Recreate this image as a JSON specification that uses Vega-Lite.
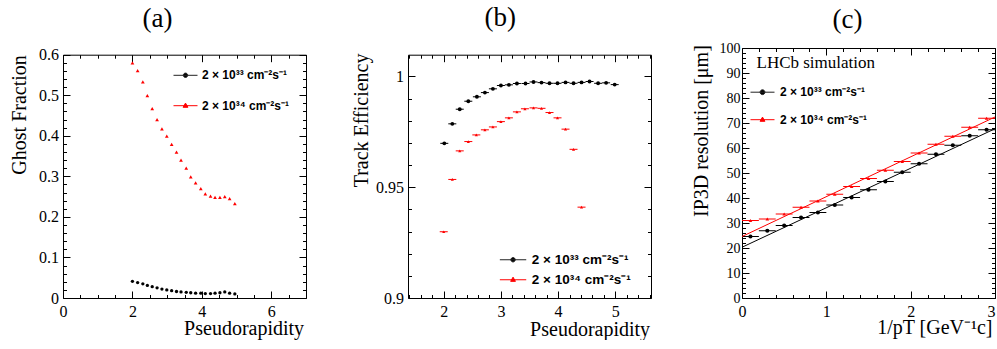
{
  "$schema": "https://vega.github.io/schema/vega-lite/v6.json",
  "background": "white",
  "autosize": {"type": "pad"},
  "padding": {"left": 9, "top": 4, "right": 0, "bottom": 0},
  "spacing": 38,
  "config": {
    "view": {"stroke": null},
    "axis": {
      "grid": false, "domain": true, "domainColor": "black", "domainWidth": 1,
      "ticks": true, "tickColor": "black", "tickWidth": 1,
      "labelFont": "Liberation Serif", "labelFontSize": 16, "labelColor": "black",
      "labelFlush": false, "labelOverlap": false, "labelBound": false,
      "titleFont": "Liberation Serif", "titleFontSize": 20, "titleFontWeight": "normal", "titleColor": "black"
    },
    "legend": {"padding": 0}
  },
  "datasets": {
    "a": [
      {"lumi": "2e33", "eta": 2.00, "v": 0.041}, {"lumi": "2e33", "eta": 2.15, "v": 0.038},
      {"lumi": "2e33", "eta": 2.30, "v": 0.035}, {"lumi": "2e33", "eta": 2.43, "v": 0.031},
      {"lumi": "2e33", "eta": 2.57, "v": 0.028}, {"lumi": "2e33", "eta": 2.71, "v": 0.025},
      {"lumi": "2e33", "eta": 2.85, "v": 0.022}, {"lumi": "2e33", "eta": 2.99, "v": 0.020},
      {"lumi": "2e33", "eta": 3.13, "v": 0.018}, {"lumi": "2e33", "eta": 3.27, "v": 0.016},
      {"lumi": "2e33", "eta": 3.40, "v": 0.015}, {"lumi": "2e33", "eta": 3.55, "v": 0.014},
      {"lumi": "2e33", "eta": 3.68, "v": 0.013}, {"lumi": "2e33", "eta": 3.82, "v": 0.012},
      {"lumi": "2e33", "eta": 3.97, "v": 0.012}, {"lumi": "2e33", "eta": 4.10, "v": 0.011},
      {"lumi": "2e33", "eta": 4.25, "v": 0.011}, {"lumi": "2e33", "eta": 4.38, "v": 0.012},
      {"lumi": "2e33", "eta": 4.52, "v": 0.013}, {"lumi": "2e33", "eta": 4.66, "v": 0.015},
      {"lumi": "2e33", "eta": 4.80, "v": 0.012}, {"lumi": "2e33", "eta": 4.95, "v": 0.010},
      {"lumi": "2e34", "eta": 2.00, "v": 0.580}, {"lumi": "2e34", "eta": 2.15, "v": 0.561},
      {"lumi": "2e34", "eta": 2.30, "v": 0.533}, {"lumi": "2e34", "eta": 2.43, "v": 0.499},
      {"lumi": "2e34", "eta": 2.57, "v": 0.467}, {"lumi": "2e34", "eta": 2.71, "v": 0.440},
      {"lumi": "2e34", "eta": 2.85, "v": 0.417}, {"lumi": "2e34", "eta": 2.99, "v": 0.399},
      {"lumi": "2e34", "eta": 3.13, "v": 0.379}, {"lumi": "2e34", "eta": 3.27, "v": 0.360},
      {"lumi": "2e34", "eta": 3.40, "v": 0.340}, {"lumi": "2e34", "eta": 3.55, "v": 0.320},
      {"lumi": "2e34", "eta": 3.68, "v": 0.299}, {"lumi": "2e34", "eta": 3.82, "v": 0.284},
      {"lumi": "2e34", "eta": 3.97, "v": 0.270}, {"lumi": "2e34", "eta": 4.10, "v": 0.257},
      {"lumi": "2e34", "eta": 4.25, "v": 0.251}, {"lumi": "2e34", "eta": 4.38, "v": 0.248},
      {"lumi": "2e34", "eta": 4.52, "v": 0.248}, {"lumi": "2e34", "eta": 4.66, "v": 0.250},
      {"lumi": "2e34", "eta": 4.80, "v": 0.245}, {"lumi": "2e34", "eta": 4.95, "v": 0.233}
    ],
    "b": [
      {"lumi": "2e33", "eta": 2.01, "lo": 1.94, "hi": 2.08, "v": 0.9698},
      {"lumi": "2e33", "eta": 2.15, "lo": 2.08, "hi": 2.22, "v": 0.9786},
      {"lumi": "2e33", "eta": 2.28, "lo": 2.21, "hi": 2.35, "v": 0.9852},
      {"lumi": "2e33", "eta": 2.43, "lo": 2.36, "hi": 2.50, "v": 0.9888},
      {"lumi": "2e33", "eta": 2.58, "lo": 2.51, "hi": 2.65, "v": 0.9908},
      {"lumi": "2e33", "eta": 2.72, "lo": 2.65, "hi": 2.79, "v": 0.9927},
      {"lumi": "2e33", "eta": 2.86, "lo": 2.79, "hi": 2.93, "v": 0.9944},
      {"lumi": "2e33", "eta": 3.00, "lo": 2.93, "hi": 3.07, "v": 0.9959},
      {"lumi": "2e33", "eta": 3.14, "lo": 3.07, "hi": 3.21, "v": 0.9962},
      {"lumi": "2e33", "eta": 3.28, "lo": 3.21, "hi": 3.35, "v": 0.9968},
      {"lumi": "2e33", "eta": 3.43, "lo": 3.36, "hi": 3.50, "v": 0.9968},
      {"lumi": "2e33", "eta": 3.57, "lo": 3.50, "hi": 3.64, "v": 0.9975},
      {"lumi": "2e33", "eta": 3.71, "lo": 3.64, "hi": 3.78, "v": 0.9972},
      {"lumi": "2e33", "eta": 3.85, "lo": 3.78, "hi": 3.92, "v": 0.9969},
      {"lumi": "2e33", "eta": 3.99, "lo": 3.92, "hi": 4.06, "v": 0.9969},
      {"lumi": "2e33", "eta": 4.13, "lo": 4.06, "hi": 4.20, "v": 0.9973},
      {"lumi": "2e33", "eta": 4.27, "lo": 4.20, "hi": 4.34, "v": 0.9969},
      {"lumi": "2e33", "eta": 4.41, "lo": 4.34, "hi": 4.48, "v": 0.9973},
      {"lumi": "2e33", "eta": 4.55, "lo": 4.48, "hi": 4.62, "v": 0.9977},
      {"lumi": "2e33", "eta": 4.70, "lo": 4.63, "hi": 4.77, "v": 0.9969},
      {"lumi": "2e33", "eta": 4.84, "lo": 4.77, "hi": 4.91, "v": 0.9971},
      {"lumi": "2e33", "eta": 4.99, "lo": 4.92, "hi": 5.06, "v": 0.9963},
      {"lumi": "2e34", "eta": 2.00, "lo": 1.93, "hi": 2.07, "v": 0.9299},
      {"lumi": "2e34", "eta": 2.15, "lo": 2.08, "hi": 2.22, "v": 0.9535},
      {"lumi": "2e34", "eta": 2.28, "lo": 2.21, "hi": 2.35, "v": 0.9664},
      {"lumi": "2e34", "eta": 2.43, "lo": 2.36, "hi": 2.50, "v": 0.9706},
      {"lumi": "2e34", "eta": 2.57, "lo": 2.50, "hi": 2.64, "v": 0.9736},
      {"lumi": "2e34", "eta": 2.72, "lo": 2.65, "hi": 2.79, "v": 0.9759},
      {"lumi": "2e34", "eta": 2.86, "lo": 2.79, "hi": 2.93, "v": 0.9772},
      {"lumi": "2e34", "eta": 3.00, "lo": 2.93, "hi": 3.07, "v": 0.9796},
      {"lumi": "2e34", "eta": 3.14, "lo": 3.07, "hi": 3.21, "v": 0.9813},
      {"lumi": "2e34", "eta": 3.28, "lo": 3.21, "hi": 3.35, "v": 0.9840},
      {"lumi": "2e34", "eta": 3.42, "lo": 3.35, "hi": 3.49, "v": 0.9854},
      {"lumi": "2e34", "eta": 3.57, "lo": 3.50, "hi": 3.64, "v": 0.9858},
      {"lumi": "2e34", "eta": 3.71, "lo": 3.64, "hi": 3.78, "v": 0.9856},
      {"lumi": "2e34", "eta": 3.85, "lo": 3.78, "hi": 3.92, "v": 0.9837},
      {"lumi": "2e34", "eta": 3.99, "lo": 3.92, "hi": 4.06, "v": 0.9813},
      {"lumi": "2e34", "eta": 4.13, "lo": 4.06, "hi": 4.20, "v": 0.9762},
      {"lumi": "2e34", "eta": 4.27, "lo": 4.20, "hi": 4.34, "v": 0.9671},
      {"lumi": "2e34", "eta": 4.41, "lo": 4.34, "hi": 4.48, "v": 0.9410}
    ],
    "c": [
      {"lumi": "2e33", "x": 0.1, "lo": 0.0, "hi": 0.2, "v": 24.6},
      {"lumi": "2e33", "x": 0.3, "lo": 0.2, "hi": 0.4, "v": 26.9},
      {"lumi": "2e33", "x": 0.5, "lo": 0.4, "hi": 0.6, "v": 29.0},
      {"lumi": "2e33", "x": 0.7, "lo": 0.6, "hi": 0.8, "v": 32.2},
      {"lumi": "2e33", "x": 0.9, "lo": 0.8, "hi": 1.0, "v": 34.2},
      {"lumi": "2e33", "x": 1.1, "lo": 1.0, "hi": 1.2, "v": 37.2},
      {"lumi": "2e33", "x": 1.3, "lo": 1.2, "hi": 1.4, "v": 40.2},
      {"lumi": "2e33", "x": 1.5, "lo": 1.4, "hi": 1.6, "v": 43.3},
      {"lumi": "2e33", "x": 1.7, "lo": 1.6, "hi": 1.8, "v": 46.6},
      {"lumi": "2e33", "x": 1.9, "lo": 1.8, "hi": 2.0, "v": 50.3},
      {"lumi": "2e33", "x": 2.1, "lo": 2.0, "hi": 2.2, "v": 53.7},
      {"lumi": "2e33", "x": 2.3, "lo": 2.2, "hi": 2.4, "v": 57.5},
      {"lumi": "2e33", "x": 2.5, "lo": 2.4, "hi": 2.6, "v": 61.1},
      {"lumi": "2e33", "x": 2.7, "lo": 2.6, "hi": 2.8, "v": 64.9},
      {"lumi": "2e33", "x": 2.9, "lo": 2.8, "hi": 3.0, "v": 67.3},
      {"lumi": "2e34", "x": 0.1, "lo": 0.0, "hi": 0.2, "v": 31.0},
      {"lumi": "2e34", "x": 0.3, "lo": 0.2, "hi": 0.4, "v": 31.6},
      {"lumi": "2e34", "x": 0.5, "lo": 0.4, "hi": 0.6, "v": 33.6},
      {"lumi": "2e34", "x": 0.7, "lo": 0.6, "hi": 0.8, "v": 36.3},
      {"lumi": "2e34", "x": 0.9, "lo": 0.8, "hi": 1.0, "v": 38.8},
      {"lumi": "2e34", "x": 1.1, "lo": 1.0, "hi": 1.2, "v": 41.5},
      {"lumi": "2e34", "x": 1.3, "lo": 1.2, "hi": 1.4, "v": 44.6},
      {"lumi": "2e34", "x": 1.5, "lo": 1.4, "hi": 1.6, "v": 47.8},
      {"lumi": "2e34", "x": 1.7, "lo": 1.6, "hi": 1.8, "v": 51.1},
      {"lumi": "2e34", "x": 1.9, "lo": 1.8, "hi": 2.0, "v": 54.6},
      {"lumi": "2e34", "x": 2.1, "lo": 2.0, "hi": 2.2, "v": 58.0},
      {"lumi": "2e34", "x": 2.3, "lo": 2.2, "hi": 2.4, "v": 61.5},
      {"lumi": "2e34", "x": 2.5, "lo": 2.4, "hi": 2.6, "v": 64.7},
      {"lumi": "2e34", "x": 2.7, "lo": 2.6, "hi": 2.8, "v": 68.3},
      {"lumi": "2e34", "x": 2.9, "lo": 2.8, "hi": 3.0, "v": 71.9}
    ],
    "cfit": [
      {"lumi": "2e33", "x": 0, "v": 20.3}, {"lumi": "2e33", "x": 3, "v": 67.7},
      {"lumi": "2e34", "x": 0, "v": 24.6}, {"lumi": "2e34", "x": 3, "v": 72.4}
    ]
  },
  "resolve": {
    "scale": {"color": "independent", "shape": "independent", "stroke": "independent"},
    "legend": {"color": "independent", "shape": "independent", "stroke": "independent"}
  },
  "hconcat": [
    {
      "width": 243, "height": 250,
      "title": {"text": "(a)", "anchor": "middle", "frame": "group", "dx": -27, "offset": -7.1, "baseline": "alphabetic", "font": "Liberation Serif", "fontSize": 27, "fontWeight": "normal", "color": "black"},
      "data": {"name": "a"},
      "resolve": {"axis": {"x": "independent", "y": "independent"}},
      "layer": [
        {
          "transform": [{"filter": {"field": "lumi", "equal": "2e33"}}],
          "mark": {"type": "point", "filled": true, "opacity": 1, "size": 11, "color": "black", "shape": "circle"},
          "encoding": {
            "x": {"field": "eta", "type": "quantitative", "scale": {"domain": [0, 7], "nice": false, "zero": false},
              "axis": {"orient": "bottom", "values": [0,0.5,1,1.5,2,2.5,3,3.5,4,4.5,5,5.5,6,6.5,7],
                "tickSize": {"condition": {"test": "datum.value % 2 === 0", "value": -7}, "value": -3.5},
                "labelExpr": "datum.value % 2 === 0 ? format(datum.value, 'd') : ''", "labelPadding": 12,
                "title": "Pseudorapidity", "titleAnchor": "end", "titleAlign": "right", "titleBaseline": "alphabetic", "titleX": 240.6, "titleY": 36.2}},
            "y": {"field": "v", "type": "quantitative", "scale": {"domain": [0, 0.6], "range": [250, 6.7], "nice": false, "zero": false},
              "axis": {"orient": "left", "values": [0,0.02,0.04,0.06,0.08,0.1,0.12,0.14,0.16,0.18,0.2,0.22,0.24,0.26,0.28,0.3,0.32,0.34,0.36,0.38,0.4,0.42,0.44,0.46,0.48,0.5,0.52,0.54,0.56,0.58,0.6],
                "tickSize": {"condition": {"test": "abs(datum.value*10-round(datum.value*10)) < 0.001", "value": -7}, "value": -3.5},
                "labelExpr": "abs(datum.value*10-round(datum.value*10)) < 0.001 ? format(datum.value, '.1~f') : ''", "labelPadding": 11.4,
                "title": "Ghost Fraction", "titleAnchor": "end", "titleAlign": "right", "titleAngle": -90, "titleBaseline": "alphabetic", "titleX": -37.7, "titleY": 6.7}}
          }
        },
        {
          "transform": [{"filter": {"field": "lumi", "equal": "2e34"}}],
          "mark": {"type": "point", "filled": true, "opacity": 1, "size": 14, "color": "red", "shape": "triangle-up"},
          "encoding": {
            "x": {"field": "eta", "type": "quantitative", "scale": {"domain": [0, 7], "nice": false, "zero": false},
              "axis": {"orient": "top", "offset": -6.7, "values": [0,0.5,1,1.5,2,2.5,3,3.5,4,4.5,5,5.5,6,6.5,7],
                "tickSize": {"condition": {"test": "datum.value % 2 === 0", "value": -7}, "value": -3.5},
                "labels": false, "title": null}},
            "y": {"field": "v", "type": "quantitative", "scale": {"domain": [0, 0.6], "range": [250, 6.7], "nice": false, "zero": false},
              "axis": {"orient": "right", "values": [0,0.02,0.04,0.06,0.08,0.1,0.12,0.14,0.16,0.18,0.2,0.22,0.24,0.26,0.28,0.3,0.32,0.34,0.36,0.38,0.4,0.42,0.44,0.46,0.48,0.5,0.52,0.54,0.56,0.58,0.6],
                "tickSize": {"condition": {"test": "abs(datum.value*10-round(datum.value*10)) < 0.001", "value": -7}, "value": -3.5},
                "labels": false, "title": null, "minExtent": 7, "maxExtent": 7}}
          }
        },
        {
          "data": {"values": []},
          "mark": {"type": "point", "filled": true, "opacity": 1},
          "encoding": {
            "x": {"field": "eta", "type": "quantitative", "axis": null},
            "y": {"field": "v", "type": "quantitative", "axis": null},
            "color": {"field": "lumi", "type": "nominal", "scale": {"domain": ["2e33", "2e34"], "range": ["black", "red"]},
              "legend": {"orient": "none", "legendX": 116.5, "legendY": 21.3, "title": null, "padding": 0,
                "labelExpr": "datum.value === '2e33' ? '2 × 10³³ cm⁻²s⁻¹' : '2 × 10³⁴ cm⁻²s⁻¹'",
                "labelFont": "Liberation Sans", "labelFontWeight": "bold", "labelFontSize": 12, "labelColor": "black",
                "symbolSize": 64, "symbolStrokeWidth": 1, "symbolOpacity": 1, "rowPadding": 18.4, "labelOffset": 10.5}},
            "stroke": {"field": "lumi", "type": "nominal", "scale": {"domain": ["2e33", "2e34"], "range": ["#222222", "red"]},
              "legend": {"orient": "none", "legendX": 116.5, "legendY": 21.3, "title": null, "padding": 0,
                "labelExpr": "datum.value === '2e33' ? '2 × 10³³ cm⁻²s⁻¹' : '2 × 10³⁴ cm⁻²s⁻¹'",
                "labelFont": "Liberation Sans", "labelFontWeight": "bold", "labelFontSize": 12, "labelColor": "black",
                "symbolSize": 64, "symbolStrokeWidth": 1, "symbolOpacity": 1, "rowPadding": 18.4, "labelOffset": 10.5}},
            "shape": {"field": "lumi", "type": "nominal", "scale": {"domain": ["2e33", "2e34"], "range": ["M-3,0L3,0M0.55,0A0.55,0.55 0 1,1 -0.55,0A0.55,0.55 0 1,1 0.55,0Z", "M-3,0L3,0M0,-0.65L0.6,0.4L-0.6,0.4Z"]},
              "legend": {"orient": "none", "legendX": 116.5, "legendY": 21.3, "title": null, "padding": 0,
                "labelExpr": "datum.value === '2e33' ? '2 × 10³³ cm⁻²s⁻¹' : '2 × 10³⁴ cm⁻²s⁻¹'",
                "labelFont": "Liberation Sans", "labelFontWeight": "bold", "labelFontSize": 12, "labelColor": "black",
                "symbolSize": 64, "symbolStrokeWidth": 1, "symbolOpacity": 1, "rowPadding": 18.4, "labelOffset": 10.5}}
          }
        }
      ]
    },
    {
      "width": 243, "height": 250,
      "title": {"text": "(b)", "anchor": "middle", "frame": "group", "dx": -29.2, "offset": -5.1, "baseline": "alphabetic", "font": "Liberation Serif", "fontSize": 27, "fontWeight": "normal", "color": "black"},
      "data": {"name": "b"},
      "resolve": {"axis": {"x": "independent", "y": "independent"}},
      "layer": [
        {
          "transform": [{"filter": {"field": "lumi", "equal": "2e33"}}],
          "mark": {"type": "rule", "strokeWidth": 1, "opacity": 1, "color": "black"},
          "encoding": {
            "x": {"field": "lo", "type": "quantitative", "scale": {"domain": [1.375, 5.625], "nice": false, "zero": false},
              "axis": {"orient": "bottom", "values": [1.4,1.6,1.8,2,2.2,2.4,2.6,2.8,3,3.2,3.4,3.6,3.8,4,4.2,4.4,4.6,4.8,5,5.2,5.4,5.6],
                "tickSize": {"condition": {"test": "abs(datum.value-round(datum.value)) < 0.001", "value": -7}, "value": -3.5},
                "labelExpr": "abs(datum.value-round(datum.value)) < 0.001 ? format(datum.value, 'd') : ''", "labelPadding": 12,
                "title": "Pseudorapidity", "titleAnchor": "end", "titleAlign": "right", "titleBaseline": "alphabetic", "titleX": 241.6, "titleY": 37.7}},
            "x2": {"field": "hi"},
            "y": {"field": "v", "type": "quantitative", "scale": {"domain": [0.9, 1.0098], "range": [250, 6.7], "nice": false, "zero": false},
              "axis": {"orient": "left", "values": [0.9,0.91,0.92,0.93,0.94,0.95,0.96,0.97,0.98,0.99,1],
                "tickSize": {"condition": {"test": "abs(datum.value*20-round(datum.value*20)) < 0.001", "value": -7}, "value": -3.5},
                "labelExpr": "abs(datum.value*20-round(datum.value*20)) < 0.001 ? format(datum.value, '.2~f') : ''", "labelPadding": 11.4,
                "title": "Track Efficiency", "titleAnchor": "end", "titleAlign": "right", "titleAngle": -90, "titleBaseline": "alphabetic", "titleX": -40.7, "titleY": 5}}
          }
        },
        {
          "transform": [{"filter": {"field": "lumi", "equal": "2e34"}}],
          "mark": {"type": "rule", "strokeWidth": 1, "opacity": 1, "color": "red"},
          "encoding": {
            "x": {"field": "lo", "type": "quantitative", "axis": null},
            "x2": {"field": "hi"},
            "y": {"field": "v", "type": "quantitative", "axis": null}
          }
        },
        {
          "transform": [{"filter": {"field": "lumi", "equal": "2e33"}}],
          "mark": {"type": "point", "filled": true, "opacity": 1, "size": 15, "color": "black", "shape": "circle"},
          "encoding": {
            "x": {"field": "eta", "type": "quantitative", "scale": {"domain": [1.375, 5.625], "nice": false, "zero": false},
              "axis": {"orient": "top", "offset": -6.7, "values": [1.4,1.6,1.8,2,2.2,2.4,2.6,2.8,3,3.2,3.4,3.6,3.8,4,4.2,4.4,4.6,4.8,5,5.2,5.4,5.6],
                "tickSize": {"condition": {"test": "abs(datum.value-round(datum.value)) < 0.001", "value": -7}, "value": -3.5},
                "labels": false, "title": null}},
            "y": {"field": "v", "type": "quantitative", "scale": {"domain": [0.9, 1.0098], "range": [250, 6.7], "nice": false, "zero": false},
              "axis": {"orient": "right", "values": [0.9,0.91,0.92,0.93,0.94,0.95,0.96,0.97,0.98,0.99,1],
                "tickSize": {"condition": {"test": "abs(datum.value*20-round(datum.value*20)) < 0.001", "value": -7}, "value": -3.5},
                "labels": false, "title": null}}
          }
        },
        {
          "transform": [{"filter": {"field": "lumi", "equal": "2e34"}}],
          "mark": {"type": "point", "filled": true, "opacity": 1, "size": 10, "color": "red", "shape": "triangle-up"},
          "encoding": {
            "x": {"field": "eta", "type": "quantitative", "axis": null},
            "y": {"field": "v", "type": "quantitative", "axis": null}
          }
        },
        {
          "data": {"values": []},
          "mark": {"type": "point", "filled": true, "opacity": 1},
          "encoding": {
            "x": {"field": "eta", "type": "quantitative", "axis": null},
            "y": {"field": "v", "type": "quantitative", "axis": null},
            "color": {"field": "lumi", "type": "nominal", "scale": {"domain": ["2e33", "2e34"], "range": ["black", "red"]},
              "legend": {"orient": "none", "legendX": 98.3, "legendY": 205, "title": null, "padding": 0,
                "labelExpr": "datum.value === '2e33' ? '2 × 10³³ cm⁻²s⁻¹' : '2 × 10³⁴ cm⁻²s⁻¹'",
                "labelFont": "Liberation Sans", "labelFontWeight": "bold", "labelFontSize": 13.5, "labelColor": "black",
                "symbolSize": 64, "symbolStrokeWidth": 1, "symbolOpacity": 1, "rowPadding": 5, "labelOffset": 12}},
            "stroke": {"field": "lumi", "type": "nominal", "scale": {"domain": ["2e33", "2e34"], "range": ["#222222", "red"]},
              "legend": {"orient": "none", "legendX": 98.3, "legendY": 205, "title": null, "padding": 0,
                "labelExpr": "datum.value === '2e33' ? '2 × 10³³ cm⁻²s⁻¹' : '2 × 10³⁴ cm⁻²s⁻¹'",
                "labelFont": "Liberation Sans", "labelFontWeight": "bold", "labelFontSize": 13.5, "labelColor": "black",
                "symbolSize": 64, "symbolStrokeWidth": 1, "symbolOpacity": 1, "rowPadding": 5, "labelOffset": 12}},
            "shape": {"field": "lumi", "type": "nominal", "scale": {"domain": ["2e33", "2e34"], "range": ["M-3.3,0L3.3,0M0.55,0A0.55,0.55 0 1,1 -0.55,0A0.55,0.55 0 1,1 0.55,0Z", "M-3.3,0L3.3,0M0,-0.65L0.6,0.4L-0.6,0.4Z"]},
              "legend": {"orient": "none", "legendX": 98.3, "legendY": 205, "title": null, "padding": 0,
                "labelExpr": "datum.value === '2e33' ? '2 × 10³³ cm⁻²s⁻¹' : '2 × 10³⁴ cm⁻²s⁻¹'",
                "labelFont": "Liberation Sans", "labelFontWeight": "bold", "labelFontSize": 13.5, "labelColor": "black",
                "symbolSize": 64, "symbolStrokeWidth": 1, "symbolOpacity": 1, "rowPadding": 5, "labelOffset": 12}}
          }
        }
      ]
    },
    {
      "width": 253, "height": 250,
      "title": {"text": "(c)", "anchor": "middle", "frame": "group", "dx": -20.9, "offset": -14.1, "baseline": "alphabetic", "font": "Liberation Serif", "fontSize": 27, "fontWeight": "normal", "color": "black"},
      "resolve": {"axis": {"x": "independent", "y": "independent"}},
      "layer": [
        {
          "data": {"name": "c"},
          "transform": [{"filter": {"field": "lumi", "equal": "2e33"}}],
          "mark": {"type": "rule", "strokeWidth": 1, "opacity": 1, "color": "black"},
          "encoding": {
            "x": {"field": "lo", "type": "quantitative", "scale": {"domain": [0, 3], "nice": false, "zero": false},
              "axis": {"orient": "bottom", "values": [0,0.2,0.4,0.6,0.8,1,1.2,1.4,1.6,1.8,2,2.2,2.4,2.6,2.8,3],
                "tickSize": {"condition": {"test": "abs(datum.value-round(datum.value)) < 0.001", "value": -7}, "value": -3.5},
                "labelExpr": "abs(datum.value-round(datum.value)) < 0.001 ? format(datum.value, 'd') : ''", "labelPadding": 12,
                "labelAlign": {"condition": {"test": "datum.value === 3", "value": "right"}, "value": "center"},
                "title": "1/pT [GeV⁻¹c]", "titleAnchor": "end", "titleAlign": "right", "titleBaseline": "alphabetic", "titleX": 250, "titleY": 35.7}},
            "x2": {"field": "hi"},
            "y": {"field": "v", "type": "quantitative", "scale": {"domain": [0, 100], "range": [250, 0], "nice": false, "zero": false},
              "axis": {"orient": "left", "values": [0,2,4,6,8,10,12,14,16,18,20,22,24,26,28,30,32,34,36,38,40,42,44,46,48,50,52,54,56,58,60,62,64,66,68,70,72,74,76,78,80,82,84,86,88,90,92,94,96,98,100],
                "tickSize": {"condition": {"test": "datum.value % 10 === 0", "value": -7}, "value": -3.5},
                "labelExpr": "datum.value % 10 === 0 ? format(datum.value, 'd') : ''", "labelPadding": 9, "labelFontSize": 14,
                "title": "IP3D resolution [μm]", "titleAnchor": "end", "titleAlign": "right", "titleAngle": -90, "titleBaseline": "alphabetic", "titleX": -35, "titleY": -3.3}}
          }
        },
        {
          "data": {"name": "c"},
          "transform": [{"filter": {"field": "lumi", "equal": "2e34"}}],
          "mark": {"type": "rule", "strokeWidth": 1, "opacity": 1, "color": "red"},
          "encoding": {
            "x": {"field": "lo", "type": "quantitative", "axis": null},
            "x2": {"field": "hi"},
            "y": {"field": "v", "type": "quantitative", "axis": null}
          }
        },
        {
          "data": {"name": "cfit"},
          "transform": [{"filter": {"field": "lumi", "equal": "2e33"}}],
          "mark": {"type": "line", "strokeWidth": 1, "color": "black"},
          "encoding": {
            "x": {"field": "x", "type": "quantitative", "axis": null},
            "y": {"field": "v", "type": "quantitative", "axis": null}
          }
        },
        {
          "data": {"name": "cfit"},
          "transform": [{"filter": {"field": "lumi", "equal": "2e34"}}],
          "mark": {"type": "line", "strokeWidth": 1, "color": "red"},
          "encoding": {
            "x": {"field": "x", "type": "quantitative", "axis": null},
            "y": {"field": "v", "type": "quantitative", "axis": null}
          }
        },
        {
          "data": {"name": "c"},
          "transform": [{"filter": {"field": "lumi", "equal": "2e33"}}],
          "mark": {"type": "point", "filled": true, "opacity": 1, "size": 17, "color": "black", "shape": "circle"},
          "encoding": {
            "x": {"field": "x", "type": "quantitative", "scale": {"domain": [0, 3], "nice": false, "zero": false},
              "axis": {"orient": "top", "values": [0,0.2,0.4,0.6,0.8,1,1.2,1.4,1.6,1.8,2,2.2,2.4,2.6,2.8,3],
                "tickSize": {"condition": {"test": "abs(datum.value-round(datum.value)) < 0.001", "value": -7}, "value": -3.5},
                "labels": false, "title": null}},
            "y": {"field": "v", "type": "quantitative", "scale": {"domain": [0, 100], "range": [250, 0], "nice": false, "zero": false},
              "axis": {"orient": "right", "values": [0,2,4,6,8,10,12,14,16,18,20,22,24,26,28,30,32,34,36,38,40,42,44,46,48,50,52,54,56,58,60,62,64,66,68,70,72,74,76,78,80,82,84,86,88,90,92,94,96,98,100],
                "tickSize": {"condition": {"test": "datum.value % 10 === 0", "value": -7}, "value": -3.5},
                "labels": false, "title": null}}
          }
        },
        {
          "data": {"name": "c"},
          "transform": [{"filter": {"field": "lumi", "equal": "2e34"}}],
          "mark": {"type": "point", "filled": true, "opacity": 1, "size": 13, "color": "red", "shape": "triangle-up"},
          "encoding": {
            "x": {"field": "x", "type": "quantitative", "axis": null},
            "y": {"field": "v", "type": "quantitative", "axis": null}
          }
        },
        {
          "data": {"values": []},
          "mark": {"type": "point", "filled": true, "opacity": 1},
          "encoding": {
            "x": {"field": "x", "type": "quantitative", "axis": null},
            "y": {"field": "v", "type": "quantitative", "axis": null},
            "color": {"field": "lumi", "type": "nominal", "scale": {"domain": ["2e33", "2e34"], "range": ["black", "red"]},
              "legend": {"orient": "none", "legendX": 14.5, "legendY": 6.5, "padding": 0,
                "title": "LHCb simulation", "titleFont": "Liberation Serif", "titleFontSize": 17, "titleFontWeight": "normal", "titleColor": "black", "titlePadding": 14.7,
                "labelExpr": "datum.value === '2e33' ? '2 × 10³³ cm⁻²s⁻¹' : '2 × 10³⁴ cm⁻²s⁻¹'",
                "labelFont": "Liberation Sans", "labelFontWeight": "bold", "labelFontSize": 12, "labelColor": "black",
                "symbolSize": 64, "symbolStrokeWidth": 1, "symbolOpacity": 1, "rowPadding": 15.5, "labelOffset": 11.5}},
            "stroke": {"field": "lumi", "type": "nominal", "scale": {"domain": ["2e33", "2e34"], "range": ["#222222", "red"]},
              "legend": {"orient": "none", "legendX": 14.5, "legendY": 6.5, "padding": 0,
                "title": "LHCb simulation", "titleFont": "Liberation Serif", "titleFontSize": 17, "titleFontWeight": "normal", "titleColor": "black", "titlePadding": 14.7,
                "labelExpr": "datum.value === '2e33' ? '2 × 10³³ cm⁻²s⁻¹' : '2 × 10³⁴ cm⁻²s⁻¹'",
                "labelFont": "Liberation Sans", "labelFontWeight": "bold", "labelFontSize": 12, "labelColor": "black",
                "symbolSize": 64, "symbolStrokeWidth": 1, "symbolOpacity": 1, "rowPadding": 15.5, "labelOffset": 11.5}},
            "shape": {"field": "lumi", "type": "nominal", "scale": {"domain": ["2e33", "2e34"], "range": ["M-3,0L3,0M0.6,0A0.6,0.6 0 1,1 -0.6,0A0.6,0.6 0 1,1 0.6,0Z", "M-3,0L3,0M0,-0.65L0.6,0.4L-0.6,0.4Z"]},
              "legend": {"orient": "none", "legendX": 14.5, "legendY": 6.5, "padding": 0,
                "title": "LHCb simulation", "titleFont": "Liberation Serif", "titleFontSize": 17, "titleFontWeight": "normal", "titleColor": "black", "titlePadding": 14.7,
                "labelExpr": "datum.value === '2e33' ? '2 × 10³³ cm⁻²s⁻¹' : '2 × 10³⁴ cm⁻²s⁻¹'",
                "labelFont": "Liberation Sans", "labelFontWeight": "bold", "labelFontSize": 12, "labelColor": "black",
                "symbolSize": 64, "symbolStrokeWidth": 1, "symbolOpacity": 1, "rowPadding": 15.5, "labelOffset": 11.5}}
          }
        }
      ]
    }
  ]
}
